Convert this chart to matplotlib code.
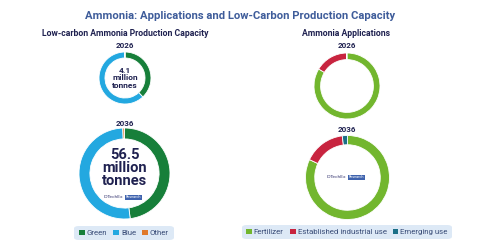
"""Ammonia applications and low-carbon production capacity donuts."""

import matplotlib.pyplot as plt
from matplotlib.patches import FancyBboxPatch, Rectangle

plt.rcParams["font.family"] = ["Roboto", "DejaVu Sans"]

# data
capacity_labels = ["Green", "Blue", "Other"]
capacity_2026 = [38.0, 61.9, 0.1]
capacity_2036 = [48.0, 51.4, 0.6]
capacity_totals = ["4.1", "56.5"]

application_labels = ["Fertilizer", "Established industrial use", "Emerging use"]
applications_2026 = [83.6, 16.2, 0.2]
applications_2036 = [82.0, 16.0, 2.0]

years = ["2026", "2036"]

capacity_colors = ["#177f3a", "#23a8e0", "#e07a2c"]
application_colors = ["#72b62e", "#c8243f", "#1b6f87"]
NAVY = "#1f2150"
TITLE_BLUE = "#3e5c9a"

W, H = 480, 250
fig = plt.figure(figsize=(W / 100, H / 100), dpi=100)


def px_axes(cx, cy, r):
    # axes in pixel coords (y from top) for a donut of radius r
    return fig.add_axes([(cx - r) / W, 1 - (cy + r) / H, 2 * r / W, 2 * r / H])


def donut(cx, cy, r, values, colors, width):
    ax = px_axes(cx, cy, r)
    ax.pie(values, colors=colors, startangle=90, counterclock=False, radius=1,
           wedgeprops=dict(width=width, edgecolor="white", linewidth=0.6))
    ax.set_xlim(-1, 1)
    ax.set_ylim(-1, 1)
    ax.set_aspect("equal")
    ax.axis("off")
    return ax


def logo(ax, y, size):
    ax.text(-0.03, y, "IDTechEx", ha="right", va="center", fontsize=size,
            color="#2c2c6a", family=["Liberation Sans Narrow", "DejaVu Sans"])
    ax.text(0.03, y, "Research", ha="left", va="center", fontsize=size * 0.85,
            color="white",
            bbox=dict(boxstyle="square,pad=0.15", fc="#3f63ae", ec="none"))


fig.text(240 / W, 1 - 16 / H, "Ammonia: Applications and Low-Carbon Production Capacity",
         ha="center", va="center", fontsize=8.1, fontweight="bold", color=TITLE_BLUE)
fig.text(125 / W, 1 - 33 / H, "Low-carbon Ammonia Production Capacity",
         ha="center", va="center", fontsize=6.2, fontweight="bold", color=NAVY)
fig.text(346 / W, 1 - 33 / H, "Ammonia Applications",
         ha="center", va="center", fontsize=6.2, fontweight="bold", color=NAVY)

# left donuts
ax = donut(125, 78, 26, capacity_2026, capacity_colors, 0.23)
ax.text(0, 0, f"{capacity_totals[0]}\nmillion\ntonnes", ha="center", va="center",
        fontsize=6.0, fontweight="bold", color=NAVY, linespacing=1.1)
ax = donut(124.5, 173.5, 45.5, capacity_2036, capacity_colors, 0.24)
ax.text(0, 0.12, f"{capacity_totals[1]}\nmillion\ntonnes", ha="center", va="center",
        fontsize=10.5, fontweight="bold", color=NAVY, linespacing=0.95)
logo(ax, -0.52, 3.2)

# right donuts
donut(347, 86, 33, applications_2026, application_colors, 0.2)
ax = donut(347.5, 177.5, 42, applications_2036, application_colors, 0.22)
logo(ax, 0.0, 3.2)

for x, y, year in [(125, 46, years[0]), (125, 123, years[1]),
                   (347, 46, years[0]), (347, 129, years[1])]:
    fig.text(x / W, 1 - y / H, year, ha="center", va="center", fontsize=5.8,
             fontweight="bold", color=NAVY)


def legend_box(x0, x1, yc, labels, colors):
    fig.patches.append(FancyBboxPatch(
        (x0 / W, 1 - (yc + 7) / H), (x1 - x0) / W, 14 / H,
        boxstyle="round,pad=0,rounding_size=0.01", transform=fig.transFigure,
        fc="#dde9f6", ec="none"))
    leg = fig.legend([Rectangle((0, 0), 1, 1, fc=c) for c in colors], labels,
                     loc="center", bbox_to_anchor=((x0 + x1) / 2 / W, 1 - yc / H),
                     ncol=len(labels), frameon=False, fontsize=5.7,
                     handlelength=0.7, handleheight=0.7, handletextpad=0.25,
                     columnspacing=0.8, borderpad=0)
    for t in leg.get_texts():
        t.set_color("#3a4d78")


legend_box(74, 174, 233, capacity_labels, capacity_colors)
legend_box(242, 452, 232, application_labels, application_colors)

fig.savefig("out.png", dpi=100, facecolor="white")
